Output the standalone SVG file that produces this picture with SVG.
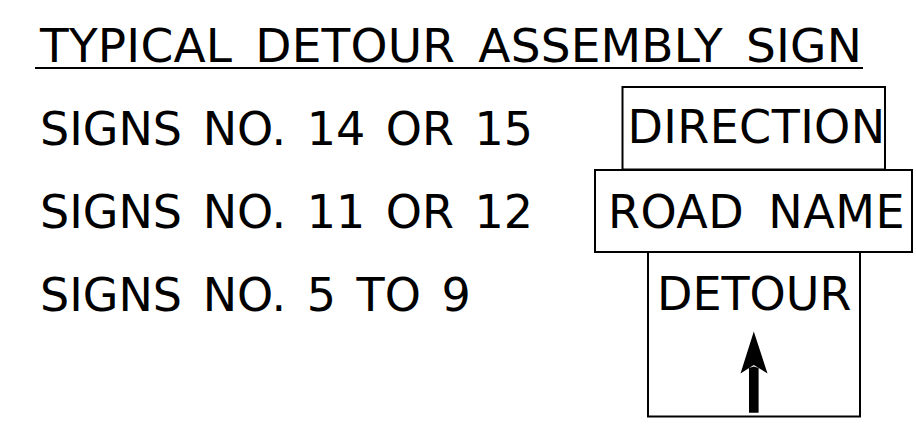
<svg xmlns="http://www.w3.org/2000/svg" width="916" height="424" viewBox="0 0 916 424">
<style>
text{font-family:"DejaVu Sans",sans-serif;font-size:46px;fill:#000}
.box{fill:#fff;stroke:#000;stroke-width:2}
</style>
<rect width="916" height="424" fill="#fff"/>
<g id="title">
<text x="40" y="62" style="font-size:47px" word-spacing="8" letter-spacing="0.2">TYPICAL DETOUR ASSEMBLY SIGN</text>
<line x1="35" y1="68" x2="863" y2="68" stroke="#000" stroke-width="2"/>
</g>
<g id="labels">
<text x="40" y="145" word-spacing="6">SIGNS NO. 14 OR 15</text>
<text x="40" y="228" word-spacing="6">SIGNS NO. 11 OR 12</text>
<text x="40" y="311" word-spacing="6">SIGNS NO. 5 TO 9</text>
</g>
<g id="direction">
<rect class="box" x="622.5" y="87" width="262.5" height="82.5"/>
<text x="627.5" y="143" letter-spacing="0.4">DIRECTION</text>
</g>
<g id="roadname">
<rect class="box" x="595" y="170" width="317" height="82"/>
<text x="608" y="227.5" word-spacing="9" letter-spacing="0.5">ROAD NAME</text>
</g>
<g id="detour">
<rect class="box" x="648" y="252" width="212" height="164.5"/>
<text x="657" y="310">DETOUR</text>
<path d="M749,412.7 V368 L753.8,366.5 L758.6,368 V412.7 Z M753.8,331.5 L767.5,373.5 L753.8,365 L740.5,373.5 Z" fill="#000"/>
</g>
</svg>
